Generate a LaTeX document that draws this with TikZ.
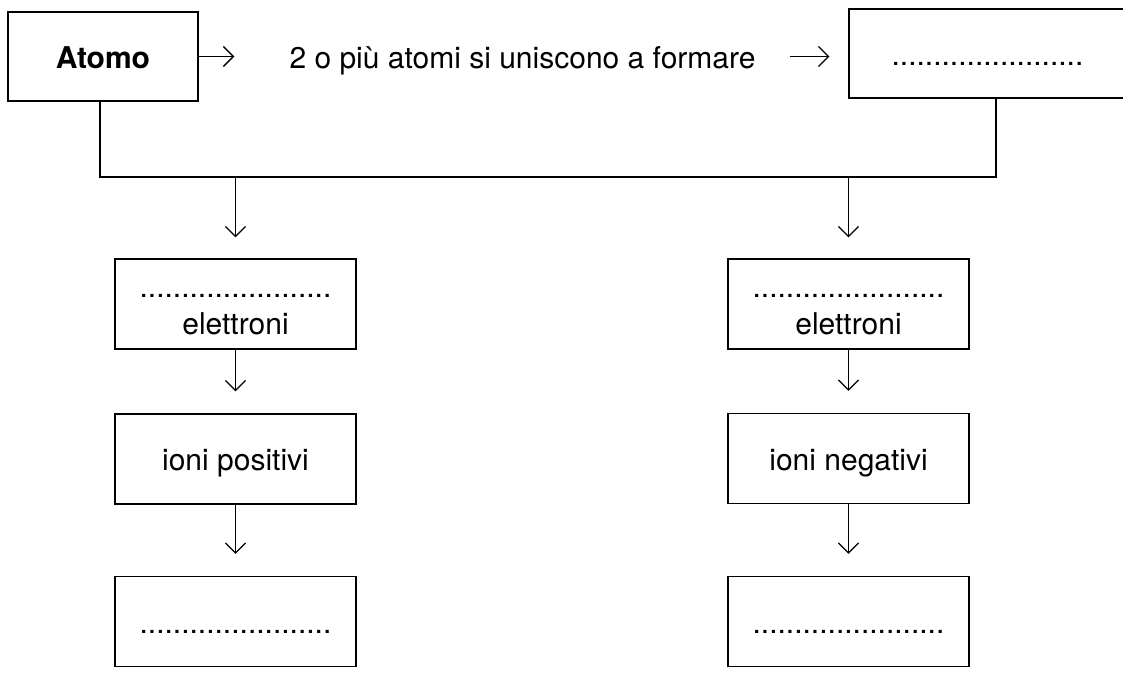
\documentclass[tikz,border=0pt]{standalone}
\usepackage{fontspec}
\setmainfont{TeX Gyre Heros}
\usetikzlibrary{positioning, arrows.meta, calc}
\newcommand{\boxfont}{\fontsize{30}{37}\selectfont}
\tikzstyle{box} = [draw, line width=1.3pt, minimum width=241pt, minimum height=90pt, inner sep=0pt, font=\boxfont, text height=23pt, text depth=0pt]
\tikzstyle{twoline} = [box, align=center, text height=60pt]
\tikzstyle{wire} = [line width=1.3pt]
\tikzstyle{link} = [wire, -{Straight Barb[length=10pt, width=20pt, line width=1.3pt]}]

\begin{document}
\begin{tikzpicture}[x=1pt, y=-1pt]
\useasboundingbox (0,0) rectangle (1123,675);
% top row
\node[box, minimum width=190pt, minimum height=89pt, font=\boxfont\bfseries] (atomo) at (103,56.5) {Atomo};
\node[font=\boxfont, inner sep=0pt, text height=23pt, text depth=0pt] (frase) at (522.5,56.5) {2 o più atomi si uniscono a formare};
\node[box, minimum width=277pt, minimum height=89pt] (molecola) at (987.5,53.5) {.......................};
\draw[link, shorten >=55pt] (atomo.east) -- (frase.west);
\draw[link, shorten <=34pt, shorten >=19pt] (frase.east) -- (molecola.west |- frase.east);
% bus line
\coordinate (busL) at (100,177);
\coordinate (busR) at (996,177);
\draw[wire] (atomo.south -| busL) -- (busL) -- (busR) -- (molecola.south -| busR);
% left column
\node[twoline] (eL) at (235.5,304) {.......................\\elettroni};
\node[box] (iL) at (235.5,459) {ioni positivi};
\node[box] (fL) at (235.5,621.5) {.......................};
% right column
\node[twoline] (eR) at (848.5,304) {.......................\\elettroni};
\node[box] (iR) at (848.5,458.5) {ioni negativi};
\node[box] (fR) at (848.5,621.5) {.......................};
% arrows down
\draw[link, shorten >=21pt] (eL.north |- busL) -- (eL.north);
\draw[link, shorten >=21pt] (eR.north |- busR) -- (eR.north);
\draw[link, shorten >=22pt] (eL) -- (iL);
\draw[link, shorten >=22pt] (eR) -- (iR);
\draw[link, shorten >=22pt] (iL) -- (fL);
\draw[link, shorten >=22pt] (iR) -- (fR);
\end{tikzpicture}
\end{document}
